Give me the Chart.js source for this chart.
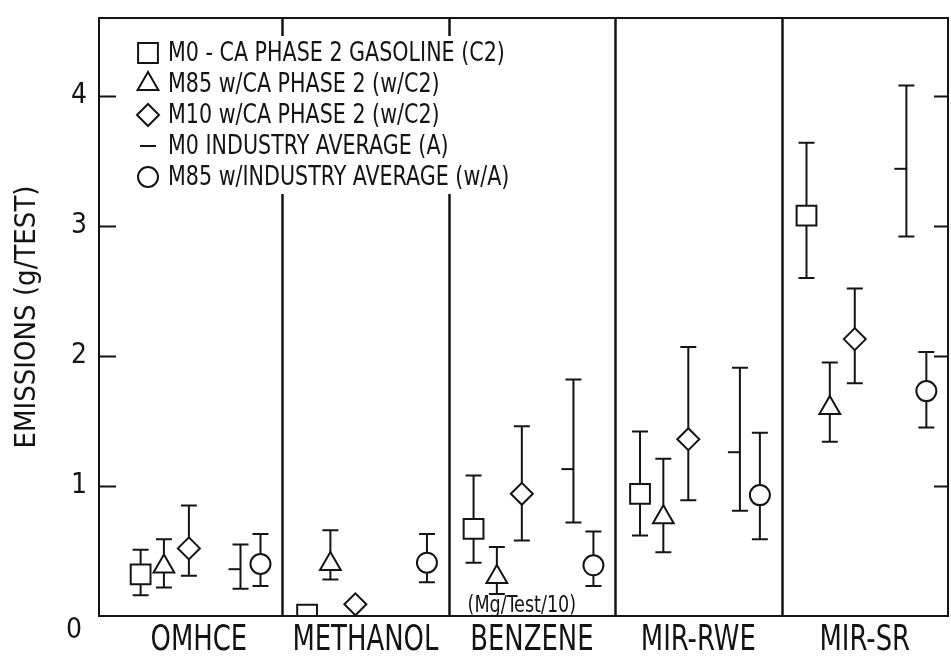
<!DOCTYPE html>
<html>
<head>
<meta charset="utf-8">
<title>Emissions by fuel</title>
<script src="https://cdn.jsdelivr.net/npm/chart.js@4.4.1/dist/chart.umd.min.js"></script>
<style>
  html, body { margin: 0; padding: 0; background: #ffffff; }
  canvas { display: block; }
</style>
</head>
<body>
<canvas id="chart" width="951" height="671"></canvas>
<script>
// ---- data (g/test) ----
const categories = ['OMHCE', 'METHANOL', 'BENZENE', 'MIR-RWE', 'MIR-SR'];
const yTicks = [0, 1, 2, 3, 4];

// M0 - CA Phase 2 gasoline (C2)
const m0C2Mean  = [0.32, 0.01, 0.67, 0.94, 3.08];
const m0C2Low   = [0.16, null, 0.41, 0.62, 2.60];
const m0C2High  = [0.51, null, 1.08, 1.42, 3.64];
// M85 with CA Phase 2
const m85C2Mean = [0.38, 0.40, 0.30, 0.76, 1.60];
const m85C2Low  = [0.22, 0.28, 0.17, 0.49, 1.34];
const m85C2High = [0.59, 0.66, 0.53, 1.21, 1.95];
// M10 with CA Phase 2
const m10C2Mean = [0.52, 0.09, 0.94, 1.36, 2.13];
const m10C2Low  = [0.31, null, 0.58, 0.89, 1.79];
const m10C2High = [0.85, null, 1.46, 2.07, 2.52];
// M0 industry average (A)
const m0AMean   = [0.36, null, 1.13, 1.26, 3.44];
const m0ALow    = [0.21, null, 0.72, 0.81, 2.92];
const m0AHigh   = [0.55, null, 1.82, 1.91, 4.08];
// M85 with industry average
const m85AMean  = [0.40, 0.41, 0.39, 0.93, 1.73];
const m85ALow   = [0.23, 0.26, 0.23, 0.59, 1.45];
const m85AHigh  = [0.63, 0.63, 0.65, 1.41, 2.03];

const benzeneNote = '(Mg/Test/10)';

// ---- styling ----
const INK = '#141414';
const NARROW = "'Liberation Sans Narrow', 'DejaVu Sans Condensed', 'Liberation Sans', sans-serif";
const CAP = 8;            // half width of error-bar caps

const series = [
  { label: 'M0 - CA PHASE 2 GASOLINE (C2)', mean: m0C2Mean,  low: m0C2Low,  high: m0C2High,  style: 'rect',     radius: 14, rotation: 0,   slot: 0.15 },
  { label: 'M85 w/CA PHASE 2 (w/C2)',       mean: m85C2Mean, low: m85C2Low, high: m85C2High, style: 'triangle', radius: 12, rotation: 0,   slot: 0.29 },
  { label: 'M10 w/CA PHASE 2 (w/C2)',       mean: m10C2Mean, low: m10C2Low, high: m10C2High, style: 'rectRot',  radius: 11, rotation: 0,   slot: 0.44 },
  { label: 'M0 INDUSTRY AVERAGE (A)',       mean: m0AMean,   low: m0ALow,   high: m0AHigh,   style: 'dash',     radius: 12, rotation: 180, slot: 0.75 },
  { label: 'M85 w/INDUSTRY AVERAGE (w/A)',  mean: m85AMean,  low: m85ALow,  high: m85AHigh,  style: 'circle',   radius: 10, rotation: 0,   slot: 0.87 }
];

const datasets = series.map(s => ({
  type: 'scatter',
  label: s.label,
  data: categories
    .map((c, i) => (s.mean[i] == null ? null : { x: i + s.slot, y: s.mean[i], lo: s.low[i], hi: s.high[i] }))
    .filter(Boolean),
  pointStyle: s.style,
  pointRadius: s.radius,
  pointHoverRadius: s.radius,
  pointRotation: s.rotation,
  pointBorderWidth: 2,
  pointBorderColor: INK,
  pointBackgroundColor: '#ffffff',
  showLine: false,
  clip: 0
}));

// text squeezed horizontally to imitate a condensed typeface
function narrowText(ctx, text, x, y, size, squeeze, align, baseline) {
  ctx.save();
  ctx.font = size + 'px ' + NARROW;
  ctx.textAlign = align;
  ctx.textBaseline = baseline;
  ctx.translate(x, y);
  ctx.scale(squeeze, 1);
  ctx.fillText(text, 0, 0);
  ctx.restore();
}

// vertical lines separating the pollutant groups
const groupDividers = {
  id: 'groupDividers',
  beforeDatasetsDraw(chart) {
    const { ctx, chartArea: a, scales: { x } } = chart;
    ctx.save();
    ctx.strokeStyle = INK;
    ctx.lineWidth = 2.5;
    for (let i = 1; i < categories.length; i++) {
      const px = Math.round(x.getPixelForValue(i)) + 0.5;
      ctx.beginPath();
      ctx.moveTo(px, a.top);
      ctx.lineTo(px, a.bottom);
      ctx.stroke();
    }
    ctx.restore();
  }
};

// low/high whiskers with caps, drawn under the open markers
const errorBars = {
  id: 'errorBars',
  beforeDatasetsDraw(chart) {
    const { ctx, scales: { y } } = chart;
    ctx.save();
    ctx.strokeStyle = INK;
    ctx.lineWidth = 2;
    chart.data.datasets.forEach((ds, di) => {
      const meta = chart.getDatasetMeta(di);
      meta.data.forEach((pt, i) => {
        const raw = ds.data[i];
        if (raw.lo == null || raw.hi == null) return;
        const px = pt.x;
        const yl = y.getPixelForValue(raw.lo);
        const yh = y.getPixelForValue(raw.hi);
        ctx.beginPath();
        ctx.moveTo(px, yl); ctx.lineTo(px, yh);
        ctx.moveTo(px - CAP, yl); ctx.lineTo(px + CAP, yl);
        ctx.moveTo(px - CAP, yh); ctx.lineTo(px + CAP, yh);
        ctx.stroke();
      });
    });
    ctx.restore();
  }
};

// legend block, frame, inward ticks, category names and the benzene unit note
const frameAndLegend = {
  id: 'frameAndLegend',
  afterDatasetsDraw(chart) {
    const { ctx, chartArea: a, scales: { x, y } } = chart;
    ctx.save();

    // legend panel hides the upper part of the first two dividers
    ctx.fillStyle = '#ffffff';
    ctx.fillRect(a.left + 28, a.top + 18, 392, 158);

    const rowY0 = a.top + 35, rowStep = 31;
    const markX = a.left + 49, textX = a.left + 69;
    series.forEach((s, i) => {
      const cy = rowY0 + i * rowStep;
      ctx.strokeStyle = INK;
      ctx.fillStyle = '#ffffff';
      ctx.lineWidth = 2;
      const legendStyle = s.style === 'dash' ? 'line' : s.style;
      const legendRadius = s.style === 'dash' ? 8 : s.radius;
      Chart.helpers.drawPoint(ctx, { pointStyle: legendStyle, rotation: 0, radius: legendRadius, borderWidth: 2 }, markX, cy);
      ctx.fillStyle = INK;
      narrowText(ctx, chart.data.datasets[i].label, textX, cy + 1, 27, 0.85, 'left', 'middle');
    });

    // plot frame
    ctx.strokeStyle = INK;
    ctx.lineWidth = 2;
    ctx.strokeRect(a.left, a.top, a.right - a.left, a.bottom - a.top);

    // inward tick marks on both vertical sides
    yTicks.filter(v => v > 0).forEach(v => {
      const py = Math.round(y.getPixelForValue(v)) + 0.5;
      ctx.beginPath();
      ctx.moveTo(a.left, py); ctx.lineTo(a.left + 17, py);
      ctx.moveTo(a.right - 14, py); ctx.lineTo(a.right, py);
      ctx.stroke();
    });

    ctx.fillStyle = INK;
    // the zero label sits just under the baseline
    ctx.font = '28px ' + NARROW;
    ctx.textAlign = 'right';
    ctx.textBaseline = 'middle';
    ctx.fillText(String(yTicks[0]), a.left - 17, y.getPixelForValue(yTicks[0]) + 15);

    // category names under each group
    categories.forEach((c, i) => {
      narrowText(ctx, c, x.getPixelForValue(i + 0.5), a.bottom + 7, 36, 0.8, 'center', 'top');
    });

    // unit note under the benzene group
    narrowText(ctx, benzeneNote, x.getPixelForValue(2.44), a.bottom - 4, 23, 0.85, 'center', 'alphabetic');
    ctx.restore();
  }
};

new Chart(document.getElementById('chart'), {
  data: { datasets },
  options: {
    responsive: false,
    animation: false,
    events: [],
    layout: { autoPadding: false, padding: { top: 18, right: 3, left: 0, bottom: 0 } },
    plugins: {
      legend: { display: false },
      tooltip: { enabled: false }
    },
    scales: {
      x: {
        type: 'linear',
        min: -0.1,
        max: 5,
        grid: { display: false, drawTicks: false },
        border: { display: false },
        afterBuildTicks: scale => { scale.ticks = categories.map((c, i) => ({ value: i + 0.5 })); },
        afterFit: scale => { scale.height = 55; scale.paddingLeft = 0; scale.paddingRight = 0; },
        ticks: { display: false }
      },
      y: {
        type: 'linear',
        min: 0,
        max: 4.6,
        grid: { display: false, drawTicks: false },
        border: { display: false },
        afterBuildTicks: scale => { scale.ticks = yTicks.map(v => ({ value: v })); },
        afterFit: scale => { scale.width = 99; scale.paddingTop = 0; scale.paddingBottom = 0; },
        ticks: {
          padding: 12,
          color: INK,
          font: { family: NARROW, size: 28 },
          callback: value => (value === 0 ? '' : String(value))
        },
        title: {
          display: true,
          text: 'EMISSIONS (g/TEST)',
          color: INK,
          font: { family: NARROW, size: 29 },
          padding: { top: 10, bottom: 0 }
        }
      }
    }
  },
  plugins: [groupDividers, errorBars, frameAndLegend]
});
</script>
</body>
</html>
